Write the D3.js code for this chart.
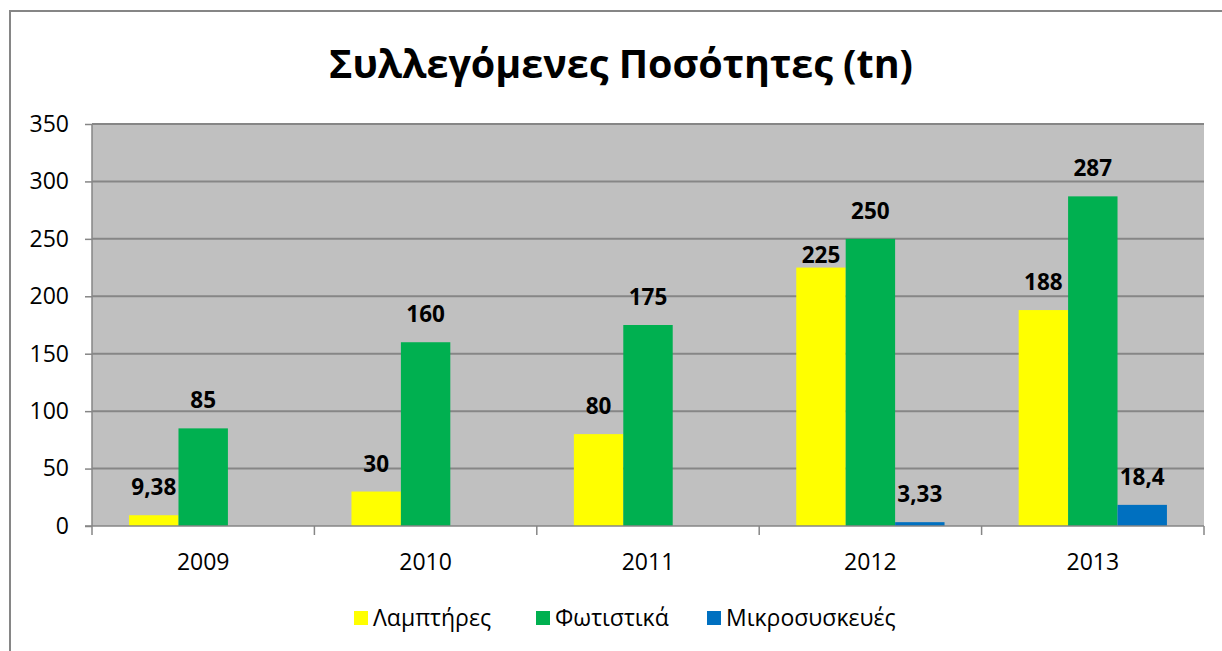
<html>
	<head>
		<meta charset="utf-8">
		<title>Συλλεγόμενες Ποσότητες</title>
		<script src="https://d3js.org/d3.v7.min.js"></script>
		<style>
			body {
				margin: 0;
				background: #fff;
			}

			svg text {
				font-family: 'Open Sans', 'Noto Sans', sans-serif;
				fill: #000;
			}

			.title {
				font-size: 39.5px;
				font-weight: bold;
				text-anchor: middle;
			}

			.axis text {
				font-size: 23px;
			}

			.axis path,
			.axis line {
				stroke: #868686;
				stroke-width: 1.5px;
			}

			.grid line {
				stroke: #868686;
				stroke-width: 2px;
			}

			.values text {
				font-size: 22.5px;
				font-weight: bold;
				text-anchor: middle;
			}

			.legend text {
				font-size: 23px;
			}
		</style>
	</head>

	<body>
		<svg width="1222" height="651"></svg>
	</body>

	<script>
		const years = ['2009', '2010', '2011', '2012', '2013'];
		const seriesNames = ['Λαμπτήρες', 'Φωτιστικά', 'Μικροσυσκευές'];
		const lamps = [9.38, 30, 80, 225, 188];
		const fixtures = [85, 160, 175, 250, 287];
		const appliances = [null, null, null, 3.33, 18.4];
		const yTicks = [0, 50, 100, 150, 200, 250, 300, 350];
		const colors = ['#ffff00', '#00b050', '#0070c0'];

		const seriesValues = [lamps, fixtures, appliances];
		const rows = [];
		years.forEach((year, i) => {
			seriesValues.forEach((vals, s) => {
				rows.push({ year, series: seriesNames[s], value: vals[i] });
			});
		});

		const svg = d3.select('svg');
		const plotLeft = 92, plotRight = 1204, plotTop = 124, plotBottom = 526;

		// outer chart border
		svg.append('rect')
			.attr('x', 10)
			.attr('y', 11)
			.attr('width', 1240)
			.attr('height', 700)
			.attr('fill', 'none')
			.attr('stroke', '#868686')
			.attr('stroke-width', 2);

		svg.append('text')
			.attr('class', 'title')
			.attr('x', 621)
			.attr('y', 78)
			.text('Συλλεγόμενες Ποσότητες (tn)');

		const x = d3.scaleBand()
			.domain(years)
			.range([plotLeft, plotRight]);

		const xInner = d3.scaleBand()
			.domain(seriesNames)
			.range([x.bandwidth() / 6, x.bandwidth() * 5 / 6]);

		const y = d3.scaleLinear()
			.domain([0, 350])
			.range([plotBottom, plotTop]);

		svg.append('rect')
			.attr('x', plotLeft)
			.attr('y', plotTop)
			.attr('width', plotRight - plotLeft)
			.attr('height', plotBottom - plotTop)
			.attr('fill', '#c0c0c0');

		svg.append('g')
			.attr('class', 'grid')
			.selectAll('line')
			.data(yTicks.slice(1))
			.join('line')
			.attr('x1', plotLeft)
			.attr('x2', plotRight)
			.attr('y1', d => y(d))
			.attr('y2', d => y(d));

		svg.append('g')
			.selectAll('rect')
			.data(rows.filter(d => d.value != null))
			.join('rect')
			.attr('x', d => x(d.year) + xInner(d.series))
			.attr('y', d => y(d.value))
			.attr('width', xInner.bandwidth())
			.attr('height', d => plotBottom - y(d.value))
			.attr('fill', d => colors[seriesNames.indexOf(d.series)]);

		// the 225 label sits lower in the original, closer to its bar
		const labelLift = d => (d.value === 225 ? 5 : 20);

		svg.append('g')
			.attr('class', 'values')
			.selectAll('text')
			.data(rows.filter(d => d.value != null))
			.join('text')
			.attr('x', d => x(d.year) + xInner(d.series) + xInner.bandwidth() / 2)
			.attr('y', d => y(d.value) - labelLift(d))
			.text(d => String(d.value).replace('.', ','));

		const yAxis = svg.append('g')
			.attr('class', 'axis')
			.attr('transform', `translate(${plotLeft},0)`)
			.call(d3.axisLeft(y).tickValues(yTicks).tickSize(7).tickPadding(16));
		yAxis.select('.domain').attr('d', `M0,${plotTop}V${plotBottom}`);

		const xAxis = svg.append('g')
			.attr('class', 'axis')
			.attr('transform', `translate(0,${plotBottom})`)
			.call(d3.axisBottom(x).tickSize(0).tickPadding(28));
		xAxis.select('.domain').attr('d', `M${plotLeft - 7},0H${plotRight}`);

		// category separators below the axis
		xAxis.append('g')
			.selectAll('line')
			.data(d3.range(years.length + 1))
			.join('line')
			.attr('x1', i => plotLeft + i * x.step())
			.attr('x2', i => plotLeft + i * x.step())
			.attr('y1', 0)
			.attr('y2', 9);

		const legend = svg.append('g')
			.attr('class', 'legend')
			.attr('transform', 'translate(354, 611)');

		const legendX = [0, 182, 353];
		const items = legend.selectAll('g')
			.data(seriesNames)
			.join('g')
			.attr('transform', (d, i) => `translate(${legendX[i]},0)`);

		items.append('rect')
			.attr('width', 14)
			.attr('height', 14)
			.attr('fill', (d, i) => colors[i]);

		items.append('text')
			.attr('x', 19)
			.attr('y', 15)
			.text(d => d);
	</script>

</html>
